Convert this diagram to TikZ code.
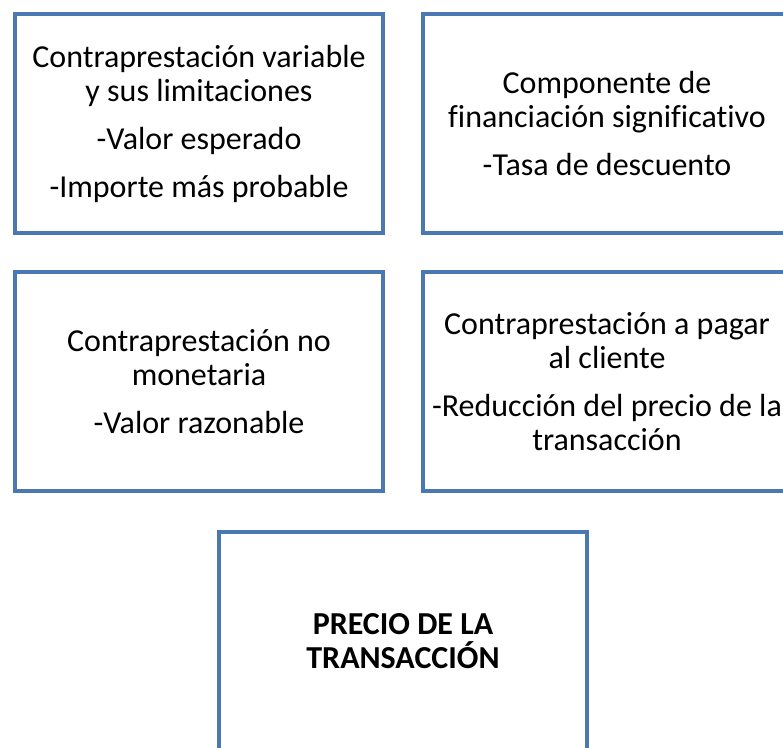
\documentclass[tikz,border=0pt]{standalone}
\usepackage{fontspec}
\setmainfont[Ligatures=CommonOff]{Carlito}
\definecolor{bordeazul}{HTML}{4B78B2}

\begin{document}
\begin{tikzpicture}[x=1pt,y=-1pt,
		caja/.style={draw=bordeazul, line width=4pt, fill=white, minimum width=368pt, minimum height=219pt,
			inner sep=0pt, align=center, font=\fontsize{32}{34}\selectfont}]
		\useasboundingbox (0,0) rectangle (783,747);
		\clip (0,0) rectangle (783,747);

		\node[caja] (variable) at (199,123.5) {Contraprestación variable\\y sus limitaciones\\[14pt]-Valor esperado\\[14pt]-Importe más probable};
		\node[caja] (financiacion) at (607,123.5) {Componente de\\financiación significativo\\[14pt]-Tasa de descuento};

		\node[caja] (nomonetaria) at (199,381.5) {Contraprestación no\\monetaria\\[14pt]-Valor razonable};
		\node[caja] (cliente) at (607,381.5) {Contraprestación a pagar\\al cliente\\[14pt]-Reducción del precio de la\\transacción};

		\node[caja] (precio) at (403,641.5) {\textbf{PRECIO DE LA}\\\textbf{TRANSACCIÓN}};
	\end{tikzpicture}
\end{document}
